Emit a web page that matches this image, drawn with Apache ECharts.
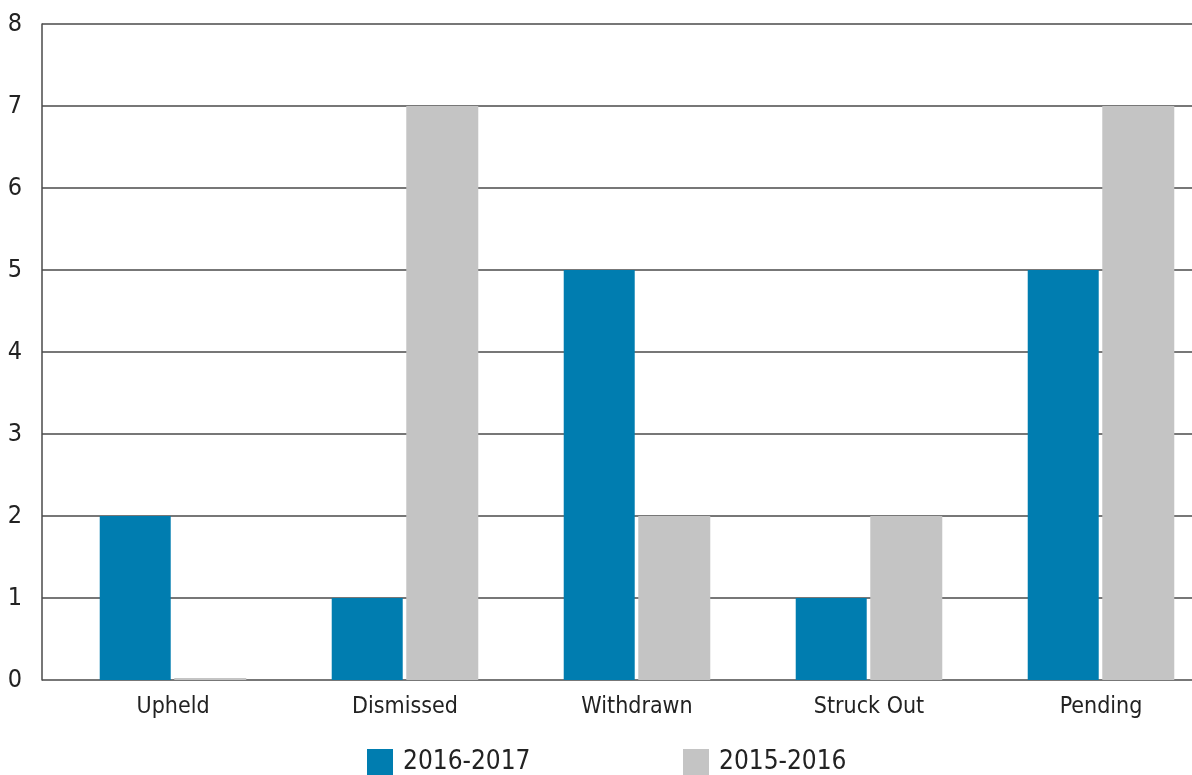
<!DOCTYPE html>
<html>
<head>
<meta charset="utf-8">
<script src="https://cdn.jsdelivr.net/npm/echarts@6/dist/echarts.min.js"></script>
<style>
html,body{margin:0;padding:0;background:#fff;}
#c{width:1192px;height:775px;}
</style>
</head>
<body>
<div id="c"></div>
<script>
const categories = ['Upheld', 'Dismissed', 'Withdrawn', 'Struck Out', 'Pending'];
const series2016_2017 = [2, 1, 5, 1, 5];
const series2015_2016 = [0, 7, 2, 2, 7];
const seriesNames = ['2016-2017', '2015-2016'];
const yTicks = [0, 1, 2, 3, 4, 5, 6, 7, 8];

const FONT = '"Liberation Sans Narrow", "DejaVu Sans Condensed", "Roboto", sans-serif';
const chart = echarts.init(document.getElementById('c'), null, {renderer: 'canvas'});
const legendBase = {
  top: 749,
  padding: 0,
  itemWidth: 26,
  itemHeight: 26,
  icon: 'rect',
  textStyle: {fontFamily: FONT, fontSize: 26, color: '#222', padding: [0, 0, 0, 5]}
};
chart.setOption({
  animation: false,
  backgroundColor: '#fff',
  textStyle: {fontFamily: FONT},
  legend: [
    Object.assign({}, legendBase, {left: 367, data: [seriesNames[0]]}),
    Object.assign({}, legendBase, {left: 683, data: [seriesNames[1]]})
  ],
  grid: [
    {left: 42, right: 0, top: 24, bottom: 95},
    {left: 57, width: 1160, top: 24, bottom: 95, outerBoundsMode: 'none', containLabel: false}
  ],
  xAxis: [
    {gridIndex: 0, type: 'value', min: 0, max: 1, show: false},
    {gridIndex: 1, type: 'category', data: categories,
     axisLine: {show: false}, axisTick: {show: false},
     axisLabel: {fontFamily: FONT, fontSize: 23, color: '#222', margin: 16}}
  ],
  yAxis: [
    {gridIndex: 0, type: 'value', min: yTicks[0], max: yTicks[yTicks.length - 1], interval: 1,
     axisLine: {show: true, lineStyle: {color: '#4a4a4a', width: 1.5}},
     axisTick: {show: false},
     splitLine: {show: true, lineStyle: {color: '#4a4a4a', width: 1.5}},
     axisLabel: {fontFamily: FONT, fontSize: 25, color: '#222', margin: 20}},
    {gridIndex: 1, type: 'value', min: yTicks[0], max: yTicks[yTicks.length - 1], interval: 1, show: false}
  ],
  series: [
    {name: seriesNames[0], type: 'bar', xAxisIndex: 1, yAxisIndex: 1,
     data: series2016_2017, barWidth: 71, barGap: '5%',
     itemStyle: {color: '#007DB0'}},
    {name: seriesNames[1], type: 'bar', xAxisIndex: 1, yAxisIndex: 1,
     data: series2015_2016, barWidth: 72, barGap: '5%', barMinHeight: 2,
     itemStyle: {color: '#C4C4C4'}}
  ]
});
</script>
</body>
</html>
